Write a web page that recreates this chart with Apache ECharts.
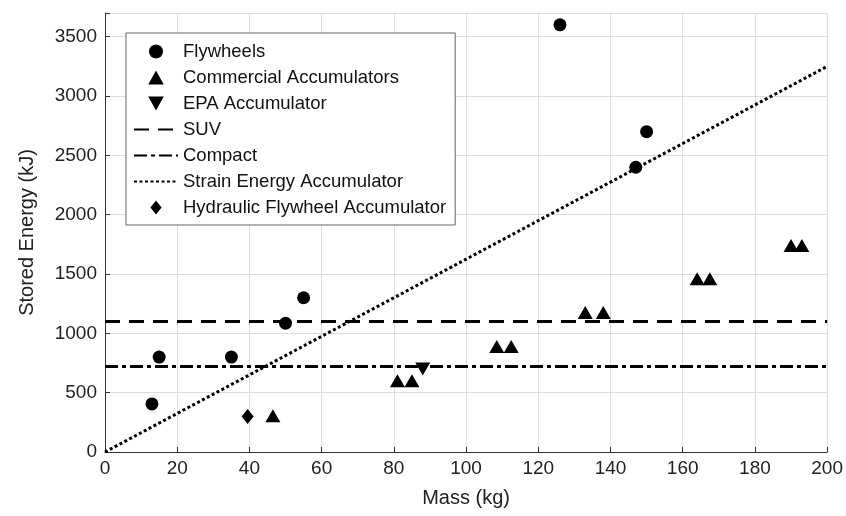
<!DOCTYPE html>
<html>
<head>
    <meta charset="utf-8" />
    <title>Stored Energy vs Mass</title>
    <script src="https://cdn.jsdelivr.net/npm/echarts@6/dist/echarts.min.js"></script>
</head>
<style>
    body { margin: 0; background: #fff; }
    #main { width: 846px; height: 516px; }
</style>
<body>
    <div id="main"></div>
    <script type="text/javascript">
        // data
        var flywheelMass = [13, 15, 35, 50, 55, 126, 147, 150];
        var flywheelEnergy = [405, 800, 800, 1085, 1300, 3600, 2400, 2700];

        var commercialMass = [46.5, 81, 85, 108.5, 112.5, 133, 138, 164, 167.5, 190, 193];
        var commercialEnergy = [305, 600, 600, 890, 890, 1175, 1175, 1460, 1460, 1740, 1740];

        var epaMass = [88];
        var epaEnergy = [700];

        var hydraulicMass = [39.5];
        var hydraulicEnergy = [300];

        var suvEnergy = 1100;
        var compactEnergy = 720;
        var strainEnd = [200, 3250];

        var xTicks = [0, 20, 40, 60, 80, 100, 120, 140, 160, 180, 200];
        var yTicks = [0, 500, 1000, 1500, 2000, 2500, 3000, 3500];

        function pairs(xs, ys) {
            var out = [];
            for (var i = 0; i < xs.length; i++) out.push([xs[i], ys[i]]);
            return out;
        }

        var font = 'Liberation Sans, Arial, sans-serif';
        var myChart = echarts.init(document.getElementById('main'));

        // marker shapes as paths so the legend keeps their aspect
        var triUp = 'path://M5,0 L10,9 L0,9 Z';
        var triDown = 'path://M0,0 L10,0 L5,9 Z';
        var diamond = 'path://M6,0 L12,7.5 L6,15 L0,7.5 Z';

        // line series: hide the legend symbol ECharts adds to line icons
        var noSymbol = { color: 'rgba(0,0,0,0)', borderWidth: 0 };

        var option = {
            animation: false,
            textStyle: { fontFamily: font },
            grid: { left: 105, right: 18, top: 13, bottom: 64 },
            legend: {
                orient: 'vertical',
                left: 126,
                top: 33,
                padding: [9, 9, 8, 7],
                itemWidth: 44,
                itemHeight: 14,
                itemGap: 7,
                symbolKeepAspect: true,
                backgroundColor: '#fff',
                borderColor: '#666',
                borderWidth: 1,
                textStyle: { fontSize: 18.5, color: '#111', fontFamily: font },
                data: [
                    { name: 'Flywheels', icon: 'circle' },
                    { name: 'Commercial Accumulators', icon: triUp },
                    { name: 'EPA Accumulator', icon: triDown },
                    'SUV', 'Compact', 'Strain Energy Accumulator',
                    { name: 'Hydraulic Flywheel Accumulator', icon: diamond }
                ]
            },
            xAxis: {
                type: 'value',
                min: 0,
                max: 200,
                interval: 20,
                name: 'Mass (kg)',
                nameLocation: 'middle',
                nameGap: 36,
                nameTextStyle: { fontSize: 20, color: '#222' },
                axisLine: { lineStyle: { color: '#333', width: 1 } },
                axisTick: { inside: true, length: 5, lineStyle: { color: '#333' } },
                axisLabel: { fontSize: 19, color: '#222', margin: 7 },
                splitLine: { show: true, lineStyle: { color: '#dcdcdc' } }
            },
            yAxis: {
                type: 'value',
                min: 0,
                max: 3700,
                interval: 500,
                name: 'Stored Energy (kJ)',
                nameLocation: 'middle',
                nameRotate: 90,
                nameGap: 68,
                nameTextStyle: { fontSize: 20, color: '#222' },
                axisLine: { show: true, lineStyle: { color: '#333', width: 1 } },
                axisTick: { show: true, inside: true, length: 5, lineStyle: { color: '#333' } },
                axisLabel: {
                    fontSize: 19, color: '#222', margin: 8,
                    formatter: function (v) { return yTicks.indexOf(v) >= 0 ? v : ''; }
                },
                splitLine: { show: true, lineStyle: { color: '#dcdcdc' } }
            },
            series: [{
                name: 'Flywheels',
                type: 'scatter',
                z: 5,
                symbol: 'circle',
                symbolSize: 13,
                itemStyle: { color: '#000', opacity: 1 },
                data: pairs(flywheelMass, flywheelEnergy)
            }, {
                name: 'Commercial Accumulators',
                type: 'scatter',
                z: 5,
                symbol: triUp,
                symbolSize: [15, 13],
                itemStyle: { color: '#000', opacity: 1 },
                data: pairs(commercialMass, commercialEnergy)
            }, {
                name: 'EPA Accumulator',
                type: 'scatter',
                z: 5,
                symbol: triDown,
                symbolSize: [15, 13],
                itemStyle: { color: '#000', opacity: 1 },
                data: pairs(epaMass, epaEnergy)
            }, {
                name: 'SUV',
                type: 'line',
                z: 3,
                symbol: 'none',
                itemStyle: noSymbol,
                lineStyle: { color: '#000', width: 3, type: [15, 9] },
                data: [[xTicks[0], suvEnergy], [xTicks[xTicks.length - 1], suvEnergy]]
            }, {
                name: 'Compact',
                type: 'line',
                z: 3,
                symbol: 'none',
                itemStyle: noSymbol,
                lineStyle: { color: '#000', width: 3, type: [13, 4, 4, 4] },
                data: [[xTicks[0], compactEnergy], [xTicks[xTicks.length - 1], compactEnergy]]
            }, {
                name: 'Strain Energy Accumulator',
                type: 'line',
                z: 3,
                symbol: 'none',
                itemStyle: noSymbol,
                lineStyle: { color: '#000', width: 3, type: [3, 2.5] },
                data: [[0, 0], strainEnd]
            }, {
                name: 'Hydraulic Flywheel Accumulator',
                type: 'scatter',
                z: 5,
                symbol: diamond,
                symbolSize: [12, 15],
                itemStyle: { color: '#000', opacity: 1 },
                data: pairs(hydraulicMass, hydraulicEnergy)
            }]
        };

        myChart.setOption(option);
    </script>
</body>
</html>
